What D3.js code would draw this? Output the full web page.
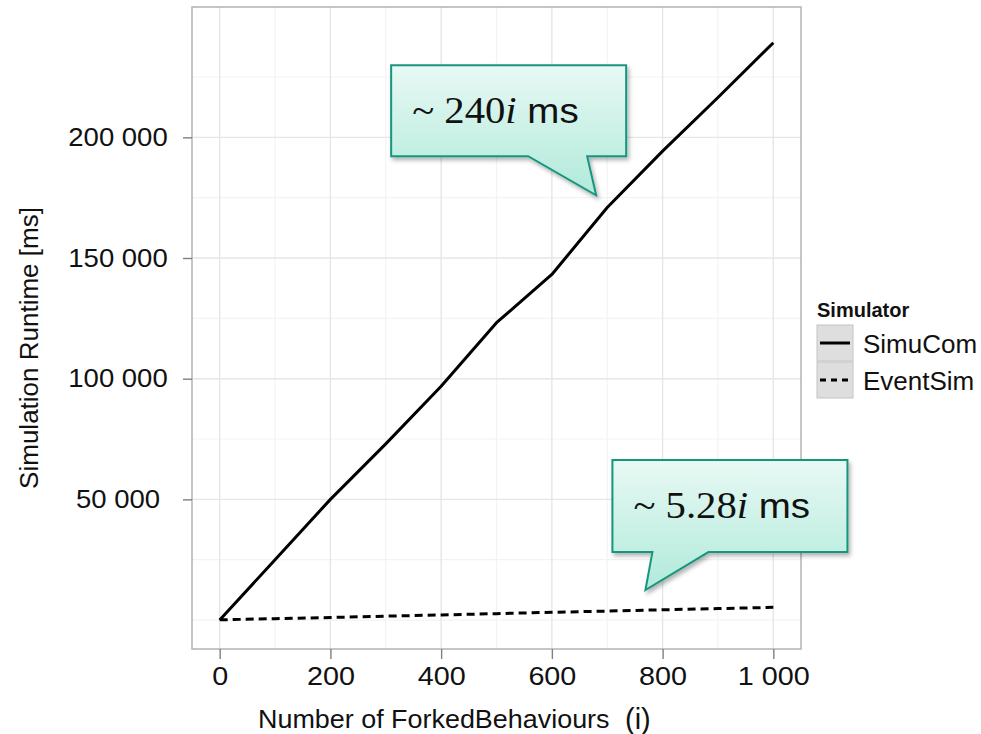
<!DOCTYPE html>
<html>
<head>
<meta charset="utf-8">
<script src="https://cdn.jsdelivr.net/npm/d3@7"></script>
<style>
  body { margin: 0; background: #fff; }
  svg { display: block; }
  text { font-family: "Liberation Sans", Arial, sans-serif; fill: #111; }
</style>
</head>
<body>
<svg width="981" height="734"></svg>
<script>
// data
var forked = [0, 100, 200, 300, 400, 500, 600, 700, 800, 900, 1000];
var simuCom = [0, 25000, 50000, 73000, 96900, 123200, 143200, 170900, 194300, 216500, 239200];
var eventSim = [100, 560, 1050, 1600, 2100, 2650, 3200, 3700, 4250, 4750, 5250];
var xTicks = [0, 200, 400, 600, 800, 1000];
var xMinor = [100, 300, 500, 700, 900];
var yTicks = [50000, 100000, 150000, 200000];
var yMinor = [0, 25000, 75000, 125000, 175000, 225000];
var seriesNames = ["SimuCom", "EventSim"];
var callouts = [
    {label: "240", at: [680, 176000]},
    {label: "5.28", at: [769, 12400]}
];

// the original picture is a little wider than tall, so text is stretched a bit
function stretch(sel, k){
    sel.each(function(){
        var t = d3.select(this), b = this.getBBox(), cx = b.x + b.width / 2;
        var old = t.attr("transform") || "";
        t.attr("transform", "translate(" + cx + ",0) scale(" + k + ",1) translate(" + (-cx) + ",0) " + old);
    });
}

function draw(){
    var svg = d3.select("svg"),
        margin = {top: 7, right: 180, bottom: 85, left: 192},
        width = 981 - margin.left - margin.right,
        height = 734 - margin.top - margin.bottom,
        g = svg.append("g").attr("transform", "translate(" + margin.left + "," + margin.top + ")");

    var x = d3.scaleLinear().domain([-50, 1050]).range([0, width]);
    var y = d3.scaleLinear().domain([-12000, 254000]).range([height, 0]);
    var fmt = function(d){ return d3.format(",")(d).replace(/,/g, " "); };

    var defs = svg.append("defs");
    var grad = defs.append("linearGradient").attr("id", "calloutFill")
        .attr("x1", 0).attr("y1", 0).attr("x2", 0).attr("y2", 1);
    grad.append("stop").attr("offset", "0%").attr("stop-color", "#e8f9f4");
    grad.append("stop").attr("offset", "100%").attr("stop-color", "#b0eada");
    var sh = defs.append("filter").attr("id", "shadow")
        .attr("x", "-10%").attr("y", "-10%").attr("width", "130%").attr("height", "140%");
    sh.append("feDropShadow").attr("dx", 2).attr("dy", 3).attr("stdDeviation", 2)
        .attr("flood-color", "#000").attr("flood-opacity", 0.3);

    // grid
    g.selectAll(".minorx").data(xMinor).enter().append("line")
        .attr("x1", x).attr("x2", x).attr("y1", 0).attr("y2", height)
        .attr("stroke", "#f3f3f3").attr("stroke-width", 1.2);
    g.selectAll(".minory").data(yMinor).enter().append("line")
        .attr("y1", y).attr("y2", y).attr("x1", 0).attr("x2", width)
        .attr("stroke", "#f3f3f3").attr("stroke-width", 1.2);
    g.selectAll(".majorx").data(xTicks).enter().append("line")
        .attr("x1", x).attr("x2", x).attr("y1", 0).attr("y2", height)
        .attr("stroke", "#e6e6e6").attr("stroke-width", 1.4);
    g.selectAll(".majory").data(yTicks).enter().append("line")
        .attr("y1", y).attr("y2", y).attr("x1", 0).attr("x2", width)
        .attr("stroke", "#e6e6e6").attr("stroke-width", 1.4);

    // lines
    var line = function(vals){
        return d3.line().x(function(d, i){ return x(forked[i]); })
            .y(function(d){ return y(d); })(vals);
    };
    g.append("path").attr("d", line(eventSim)).attr("fill", "none")
        .attr("stroke", "#000").attr("stroke-width", 3).attr("stroke-dasharray", "8,5");
    g.append("path").attr("d", line(simuCom)).attr("fill", "none")
        .attr("stroke", "#000").attr("stroke-width", 3).attr("stroke-linejoin", "round");

    // panel border
    g.append("rect").attr("width", width).attr("height", height)
        .attr("fill", "none").attr("stroke", "#b3b3b3").attr("stroke-width", 1.5);

    // axes
    var xa = g.append("g").attr("transform", "translate(0," + height + ")")
        .call(d3.axisBottom(x).tickValues(xTicks).tickSize(10).tickPadding(8).tickFormat(fmt));
    var ya = g.append("g")
        .call(d3.axisLeft(y).tickValues(yTicks).tickSize(9).tickPadding(16).tickFormat(fmt));
    [xa, ya].forEach(function(a){
        a.select(".domain").remove();
        a.selectAll("line").attr("stroke", "#7f7f7f").attr("stroke-width", 1.4);
        a.selectAll("text").attr("font-size", 25).attr("fill", "#111")
            .attr("font-family", "Liberation Sans, Arial, sans-serif");
    });
    ya.selectAll("text").attr("text-anchor", "middle").attr("x", -74);
    stretch(xa.selectAll("text"), 1.15);
    stretch(ya.selectAll("text"), 1.1);

    var xt = svg.append("text").attr("x", 258).attr("y", 728).attr("font-size", 25)
        .text("Number of ForkedBehaviours");
    xt.attr("transform", "translate(258,0) scale(1.077,1) translate(-258,0)");
    svg.append("text").attr("x", 625).attr("y", 729).attr("font-size", 29).text("(i)");
    svg.append("text").attr("transform", "translate(38,348) rotate(-90)")
        .attr("text-anchor", "middle").attr("font-size", 26).text("Simulation Runtime [ms]");

    // legend
    var lg = svg.append("g").attr("transform", "translate(817,0)");
    lg.append("text").attr("x", 0).attr("y", 317).attr("font-size", 20)
        .attr("font-weight", "bold").text("Simulator");
    var key = lg.selectAll(".key").data(seriesNames).enter().append("g")
        .attr("transform", function(d, i){ return "translate(0," + (325 + i * 37) + ")"; });
    key.append("rect").attr("width", 36).attr("height", 36)
        .attr("fill", "#dedede").attr("stroke", "#c4c4c4").attr("stroke-width", 1);
    key.append("line").attr("x1", 3).attr("x2", 33).attr("y1", 18).attr("y2", 18)
        .attr("stroke", "#000").attr("stroke-width", 3)
        .attr("stroke-dasharray", function(d, i){ return i ? "6,5" : null; });
    key.append("text").attr("x", 46).attr("y", 28).attr("font-size", 26)
        .text(function(d){ return d; });

    // callouts
    var shapes = [
        {box: [-205, -130, 235, 91], base: [-68, -9]},
        {box: [-33, -130, 235, 92], base: [7, 63]}
    ];
    callouts.forEach(function(c, k){
        var px = margin.left + x(c.at[0]), py = margin.top + y(c.at[1]);
        var s = shapes[k], bx = px + s.box[0], by = py + s.box[1], bw = s.box[2], bh = s.box[3];
        var p = d3.path();
        p.moveTo(bx, by); p.lineTo(bx + bw, by); p.lineTo(bx + bw, by + bh);
        var a = px + s.base[0], b = px + s.base[1];
        p.lineTo(Math.max(a, b), by + bh); p.lineTo(px, py); p.lineTo(Math.min(a, b), by + bh);
        p.lineTo(bx, by + bh); p.closePath();
        svg.append("path").attr("d", p.toString()).attr("fill", "url(#calloutFill)")
            .attr("stroke", "#17967e").attr("stroke-width", 2).attr("filter", "url(#shadow)");
        var tx = bx + 21;
        var t = svg.append("text").attr("x", tx).attr("y", by + 58).attr("font-size", 37)
            .attr("transform", "translate(" + tx + ",0) scale(1.1,1) translate(" + (-tx) + ",0)");
        t.append("tspan").attr("font-family", "Liberation Serif, serif").text("~ " + c.label);
        t.append("tspan").attr("font-family", "Liberation Serif, serif").attr("font-style", "italic").text("i");
        t.append("tspan").attr("font-family", "Liberation Sans, sans-serif").attr("font-size", 35).text(" ms");
    });
}
draw();
</script>
</body>
</html>
